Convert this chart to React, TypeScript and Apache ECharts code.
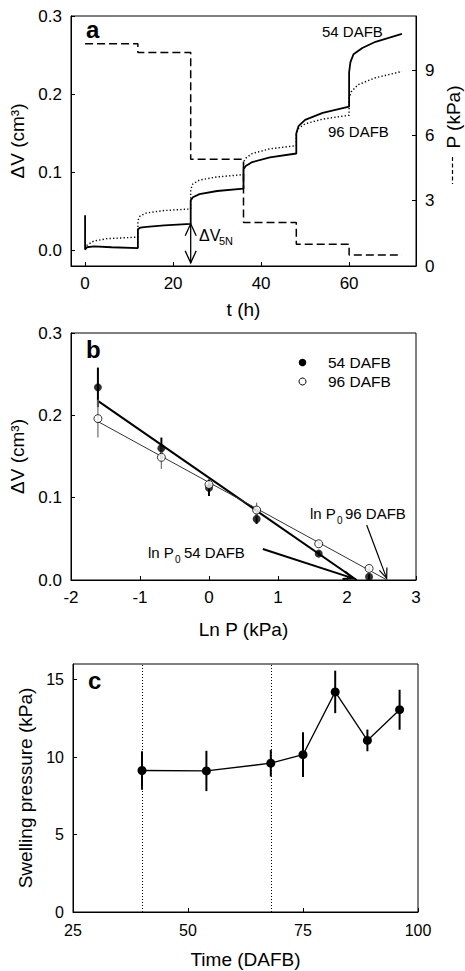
import React, { useEffect, useRef } from 'react';
import * as echarts from 'echarts';

// ---------- Panel a : swelling time course ----------
const solid54: [number, number][] = [
  [0, 0.045], [0, 0.001], [0.4, 0.004], [2, 0.005], [6, 0.004], [12, 0.003],
  [12, 0.027], [12.5, 0.029], [14, 0.030], [18, 0.032], [24, 0.034],
  [24, 0.064], [24.5, 0.068], [26, 0.072], [30, 0.076], [36, 0.079],
  [36, 0.104], [36.5, 0.108], [38, 0.113], [42, 0.119], [48, 0.124],
  [48, 0.150], [48.5, 0.159], [50, 0.167], [54, 0.176], [60, 0.184],
  [60, 0.228], [60.3, 0.241], [61, 0.251], [63, 0.259], [66, 0.267], [72, 0.277],
];
const dotted96: [number, number][] = [
  [0, 0.002], [0.5, 0.007], [2, 0.012], [5, 0.015], [12, 0.017],
  [12, 0.038], [12.5, 0.044], [14, 0.048], [18, 0.051], [24, 0.053],
  [24, 0.078], [24.5, 0.085], [26, 0.090], [30, 0.094], [36, 0.097],
  [36, 0.113], [36.5, 0.118], [38, 0.124], [42, 0.130], [48, 0.134],
  [48, 0.150], [48.5, 0.156], [50, 0.162], [54, 0.168], [60, 0.173],
  [60, 0.195], [60.5, 0.203], [62, 0.212], [66, 0.221], [72, 0.229],
];
const pressureSteps: [number, number][] = [
  [0, 10.2], [12, 9.8], [24, 4.9], [36, 2.0], [48, 1.0], [60, 0.5], [72, 0.5],
];
const dv5nArrow = [[24, 0.034, 24, -0.016]];
const aXTicks = [0, 20, 40, 60];
const aYTicks = [0, 0.1, 0.2, 0.3];
const aPTicks = [0, 3, 6, 9];

// ---------- Panel b : ΔV vs ln P ----------
const lnP = [-1.61, -0.69, 0, 0.69, 1.59, 2.32];
const dv54 = [0.234, 0.160, 0.112, 0.074, 0.032, 0.004];
const err54 = [0.024, 0.013, 0.010, 0.006, 0.003, 0.003];
const dv96 = [0.196, 0.149, 0.116, 0.085, 0.044, 0.014];
const err96 = [0.023, 0.014, 0.004, 0.009, 0.003, 0.003];
const fit54: [number, number][] = [[-1.6, 0.217], [2.14, 0]];
const fit96: [number, number][] = [[-1.6, 0.192], [2.58, 0]];
const p0Arrow54 = [[0.78, 0.0376, 2.09, 0.002]];
const p0Arrow96 = [[2.285, 0.0667, 2.575, 0.002]];

// ---------- Panel c : swelling pressure vs fruit age ----------
const days = [40, 54, 68, 75, 82, 89, 96];
const swelling = [9.13, 9.1, 9.6, 10.15, 14.2, 11.07, 13.05];
const swellErr = [1.24, 1.3, 0.86, 1.44, 1.37, 0.7, 1.29];
const dividerDays = [40, 68];
const cYTicks = [0, 5, 10, 15];

const FONT = "'Liberation Sans', Arial, Helvetica, sans-serif";

function makeErrRender(color: string, width: number) {
  return (_p: any, api: any) => {
    const x = api.value(0), y = api.value(1), e = api.value(2);
    const t = api.coord([x, y + e]);
    const b = api.coord([x, y - e]);
    return {
      type: 'line',
      shape: { x1: t[0], y1: t[1], x2: b[0], y2: b[1] },
      style: { stroke: color, lineWidth: width },
    };
  };
}

function makeArrowRender(width: number, L: number, H: number, both: boolean) {
  return (_p: any, api: any) => {
    const p1 = api.coord([api.value(0), api.value(1)]);
    const p2 = api.coord([api.value(2), api.value(3)]);
    const head = (tip: number[], from: number[]) => {
      const dx = tip[0] - from[0], dy = tip[1] - from[1];
      const len = Math.hypot(dx, dy) || 1;
      const ux = dx / len, uy = dy / len;
      const bx = tip[0] - ux * L, by = tip[1] - uy * L;
      return {
        type: 'polyline',
        shape: { points: [[bx - uy * H, by + ux * H], [tip[0], tip[1]], [bx + uy * H, by - ux * H]] },
        style: { stroke: '#000', lineWidth: width, fill: null },
      };
    };
    const children: any[] = [
      { type: 'line', shape: { x1: p1[0], y1: p1[1], x2: p2[0], y2: p2[1] }, style: { stroke: '#000', lineWidth: width } },
      head(p2, p1),
    ];
    if (both) children.push(head(p1, p2));
    return { type: 'group', children };
  };
}

function axis(extra: any) {
  return {
    type: 'value',
    axisLine: { show: true, onZero: false, lineStyle: { color: '#000', width: 1 } },
    axisTick: { show: true, inside: true, length: 4, lineStyle: { color: '#000' } },
    splitLine: { show: false },
    axisLabel: { color: '#000', fontSize: 17, fontFamily: FONT, fontWeight: 'normal', margin: 9 },
    nameTextStyle: { color: '#000', fontSize: 19, fontFamily: FONT, fontWeight: 'normal' },
    nameLocation: 'middle',
    ...extra,
  };
}

function txt(text: string, x: number, y: number, fontSize: number, extra: any = {}) {
  return {
    type: 'text', x, y, silent: true,
    style: { text, fill: '#000', fontSize, fontFamily: FONT, fontWeight: 'normal', align: 'left', verticalAlign: 'middle', ...extra },
  };
}

export default function App() {
  const ref = useRef<HTMLDivElement>(null);
  useEffect(() => {
    if (!ref.current) return;
    const chart = echarts.init(ref.current, undefined, { renderer: 'svg' });
    const fmt1 = (v: number) => v.toFixed(1);
    const lab = (size: number, margin: number, extra: any = {}) => ({
      color: '#000', fontSize: size, fontFamily: FONT, fontWeight: 'normal', margin, ...extra,
    });
    const tick = (extra: any = {}) => ({ show: true, inside: true, length: 4, lineStyle: { color: '#000' }, ...extra });
    const option: any = {
      animation: false,
      backgroundColor: '#fff',
      textStyle: { fontFamily: FONT },
      grid: [
        { left: 71, top: 16, width: 345, height: 250, show: true, borderColor: '#000', borderWidth: 1 },
        { left: 71, top: 333, width: 345, height: 247, show: true, borderColor: '#000', borderWidth: 1 },
        { left: 73, top: 664, width: 345, height: 248, show: true, borderColor: '#000', borderWidth: 1 },
      ],
      xAxis: [
        axis({
          gridIndex: 0, min: -3.2, max: 75.2, name: 't (h)', nameGap: 34,
          axisTick: tick({ customValues: aXTicks }),
          axisLabel: lab(17, 9, { customValues: aXTicks }),
        }),
        axis({ gridIndex: 1, min: -2, max: 3, interval: 1, name: 'Ln P (kPa)', nameGap: 40 }),
        axis({
          gridIndex: 2, min: 25, max: 100, interval: 25, name: 'Time (DAFB)', nameGap: 38,
          axisLabel: lab(16, 10),
        }),
      ],
      yAxis: [
        axis({
          gridIndex: 0, min: -0.02, max: 0.3, name: 'ΔV (cm³)', nameGap: 36, nameRotate: 90,
          axisTick: tick({ customValues: aYTicks }),
          axisLabel: lab(17, 9, { formatter: fmt1, customValues: aYTicks }),
        }),
        axis({
          gridIndex: 0, position: 'right', min: 0, max: 11.48,
          axisTick: tick({ customValues: aPTicks }),
          axisLabel: lab(17, 9, { customValues: aPTicks }),
        }),
        axis({
          gridIndex: 1, min: 0, max: 0.3, interval: 0.1, name: 'ΔV (cm³)', nameGap: 36, nameRotate: 90,
          axisLabel: lab(17, 9, { formatter: fmt1 }),
        }),
        axis({
          gridIndex: 2, min: 0, max: 16, name: 'Swelling pressure (kPa)', nameGap: 38, nameRotate: 90,
          axisTick: tick({ customValues: cYTicks }),
          axisLabel: lab(16, 9, { customValues: cYTicks }),
        }),
      ],
      series: [
        // ----- a -----
        {
          type: 'line', name: '54 DAFB curve', xAxisIndex: 0, yAxisIndex: 0, data: solid54,
          symbol: 'none', lineStyle: { color: '#000', width: 1.8 }, z: 3,
        },
        {
          type: 'line', name: '96 DAFB curve', xAxisIndex: 0, yAxisIndex: 0, data: dotted96,
          symbol: 'none', lineStyle: { color: '#000', width: 1.4, type: [1.3, 2.2] }, z: 2,
        },
        {
          type: 'line', name: 'P', xAxisIndex: 0, yAxisIndex: 1, data: pressureSteps, step: 'end',
          symbol: 'none', lineStyle: { color: '#000', width: 1.5, type: [8, 4] }, z: 2,
        },
        {
          type: 'custom', xAxisIndex: 0, yAxisIndex: 0, data: dv5nArrow,
          renderItem: makeArrowRender(1.3, 12, 5.5, true), z: 4,
        },
        // ----- b -----
        {
          type: 'line', xAxisIndex: 1, yAxisIndex: 2, data: fit54, symbol: 'none',
          lineStyle: { color: '#000', width: 2 }, z: 2,
        },
        {
          type: 'line', xAxisIndex: 1, yAxisIndex: 2, data: fit96, symbol: 'none',
          lineStyle: { color: '#333', width: 1 }, z: 2,
        },
        {
          type: 'custom', xAxisIndex: 1, yAxisIndex: 2,
          data: lnP.map((x, i) => [x, dv54[i], err54[i]]),
          renderItem: makeErrRender('#000', 2), z: 3,
        },
        {
          type: 'custom', xAxisIndex: 1, yAxisIndex: 2,
          data: lnP.map((x, i) => [x, dv96[i], err96[i]]),
          renderItem: makeErrRender('#777', 1.3), z: 3,
        },
        {
          type: 'scatter', name: '54 DAFB', xAxisIndex: 1, yAxisIndex: 2,
          data: lnP.map((x, i) => [x, dv54[i]]), symbol: 'circle', symbolSize: 8,
          itemStyle: { color: '#000' }, z: 4,
        },
        {
          type: 'scatter', name: '96 DAFB', xAxisIndex: 1, yAxisIndex: 2,
          data: lnP.map((x, i) => [x, dv96[i]]), symbol: 'circle', symbolSize: 8,
          itemStyle: { color: '#fff', borderColor: '#000', borderWidth: 1 }, z: 5,
        },
        {
          type: 'custom', xAxisIndex: 1, yAxisIndex: 2, data: p0Arrow54,
          renderItem: makeArrowRender(2, 10, 4, false), z: 6,
        },
        {
          type: 'custom', xAxisIndex: 1, yAxisIndex: 2, data: p0Arrow96,
          renderItem: makeArrowRender(1.2, 10, 4, false), z: 6,
        },
        // ----- c -----
        {
          type: 'custom', xAxisIndex: 2, yAxisIndex: 3,
          data: days.map((d, i) => [d, swelling[i], swellErr[i]]),
          renderItem: makeErrRender('#000', 2), z: 3,
        },
        {
          type: 'line', name: 'Swelling pressure', xAxisIndex: 2, yAxisIndex: 3,
          data: days.map((d, i) => [d, swelling[i]]),
          symbol: 'circle', symbolSize: 9, showSymbol: true,
          itemStyle: { color: '#000' }, lineStyle: { color: '#000', width: 1.3 }, z: 4,
          markLine: {
            silent: true, symbol: 'none', label: { show: false },
            lineStyle: { color: '#000', width: 1, type: [1, 2] },
            data: dividerDays.map((d) => ({ xAxis: d })),
          },
        },
      ],
      graphic: [
        txt('a', 86, 29, 24, { fontWeight: 'bold' }),
        txt('b', 86, 349, 24, { fontWeight: 'bold' }),
        txt('c', 88, 680, 24, { fontWeight: 'bold' }),
        txt('54 DAFB', 322, 31, 15),
        txt('96 DAFB', 328, 131.5, 15),
        txt('ΔV', 199, 235, 16),
        txt('5N', 219, 241, 11),
        {
          type: 'text', x: 453, y: 117, rotation: Math.PI / 2, silent: true,
          style: { text: 'P (kPa)', fill: '#000', fontSize: 19, fontFamily: FONT, fontWeight: 'normal', align: 'center', verticalAlign: 'middle' },
        },
        {
          type: 'line', silent: true,
          shape: { x1: 452.5, y1: 157, x2: 452.5, y2: 184 },
          style: { stroke: '#000', lineWidth: 1.2, lineDash: [4, 2.5] },
        },
        // legend of panel b
        { type: 'circle', silent: true, shape: { cx: 302.5, cy: 362.5, r: 3.8 }, style: { fill: '#000' } },
        { type: 'circle', silent: true, shape: { cx: 302.5, cy: 381.5, r: 3.5 }, style: { fill: '#fff', stroke: '#000', lineWidth: 1 } },
        txt('54 DAFB', 328, 362.5, 15.5),
        txt('96 DAFB', 328, 381.5, 15.5),
        // ln P0 annotations
        txt('ln P', 148, 552, 15),
        txt('0', 175, 559, 10),
        txt('54 DAFB', 184, 552, 15),
        txt('ln P', 310, 513.5, 15),
        txt('0', 337, 520.5, 10),
        txt('96 DAFB', 345, 513.5, 15),
      ],
    };
    chart.setOption(option);
    return () => chart.dispose();
  }, []);
  return <div ref={ref} style={{ position: 'absolute', left: 0, top: 0, width: 465, height: 971 }} />;
}
